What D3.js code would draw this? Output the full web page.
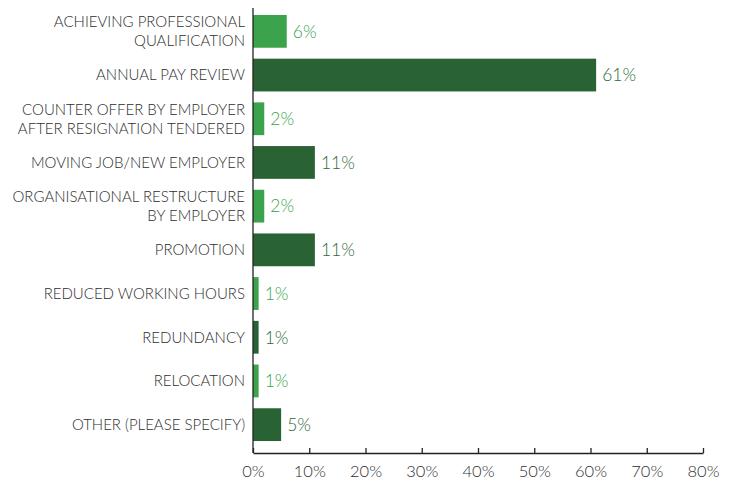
<!DOCTYPE html>
<html>
<head>
<meta charset="utf-8">
<script src="https://cdn.jsdelivr.net/npm/d3@7"></script>
<style>
  body { margin: 0; background: #fff; }
  svg { display: block; }
</style>
</head>
<body>
<svg id="chart" width="733" height="480"></svg>
<script>
// Reasons for the most recent pay rise
const categories = [
  ["ACHIEVING PROFESSIONAL", "QUALIFICATION"],
  ["ANNUAL PAY REVIEW"],
  ["COUNTER OFFER BY EMPLOYER", "AFTER RESIGNATION TENDERED"],
  ["MOVING JOB/NEW EMPLOYER"],
  ["ORGANISATIONAL RESTRUCTURE", "BY EMPLOYER"],
  ["PROMOTION"],
  ["REDUCED WORKING HOURS"],
  ["REDUNDANCY"],
  ["RELOCATION"],
  ["OTHER (PLEASE SPECIFY)"]
];
const values = [6, 61, 2, 11, 2, 11, 1, 1, 1, 5];
const tickValues = [0, 10, 20, 30, 40, 50, 60, 70, 80];

const lightGreen = "#3aa34b";
const darkGreen = "#2a6333";
const lightLabel = "#3aa34b";
const darkLabel = "#2f6a39";
const textColor = "#2e2e2e";
const fontFamily = "'Century Gothic', Lato, 'Open Sans', sans-serif";

const svg = d3.select("#chart");
const x0 = 253, x1 = 703, yTop = 8, yBottom = 453;

const x = d3.scaleLinear().domain([0, 80]).range([x0, x1]);
const y = d3.scaleBand()
  .domain(d3.range(categories.length))
  .range([9.5, 446.5])
  .paddingInner(0.25)
  .paddingOuter(0.125);

const data = values.map((v, i) => ({ i, v, label: categories[i] }));

// bars
svg.append("g").selectAll("rect").data(data).join("rect")
  .attr("x", x(0))
  .attr("y", d => y(d.i))
  .attr("width", d => x(d.v) - x(0))
  .attr("height", y.bandwidth())
  .attr("fill", d => d.i % 2 === 0 ? lightGreen : darkGreen);

// value labels
svg.append("g").selectAll("text").data(data).join("text")
  .attr("x", d => x(d.v) + 6)
  .attr("y", d => y(d.i) + y.bandwidth() / 2)
  .attr("dy", "0.36em")
  .attr("font-family", fontFamily)
  .attr("font-weight", 300)
  .attr("font-size", 17.5)
  .attr("fill", d => d.i % 2 === 0 ? lightLabel : darkLabel)
  .text(d => d.v + "%");

// category labels
const cat = svg.append("g").selectAll("text").data(data).join("text")
  .attr("x", x0 - 8)
  .attr("y", d => y(d.i) + y.bandwidth() / 2)
  .attr("text-anchor", "end")
  .attr("font-family", fontFamily)
  .attr("font-weight", 300)
  .attr("font-size", 15)
  .attr("fill", textColor);
cat.each(function(d) {
  const n = d.label.length;
  const lh = 19;
  d3.select(this).selectAll("tspan").data(d.label).join("tspan")
    .attr("x", x0 - 8)
    .attr("y", (t, k) => y(d.i) + y.bandwidth() / 2 + (k - (n - 1) / 2) * lh)
    .attr("dy", "0.36em")
    .text(t => t);
});

// y axis line
svg.append("line")
  .attr("x1", x0).attr("x2", x0)
  .attr("y1", yTop).attr("y2", yBottom)
  .attr("stroke", "#222").attr("stroke-width", 1.3);

// x axis with inward ticks
const xAxis = d3.axisBottom(x)
  .tickValues(tickValues)
  .tickSize(-5)
  .tickSizeOuter(0)
  .tickPadding(12)
  .tickFormat(d => d + "%");
const gx = svg.append("g")
  .attr("transform", `translate(0,${yBottom})`)
  .call(xAxis);
gx.select(".domain").attr("stroke", "#222").attr("stroke-width", 1.3);
gx.selectAll(".tick line").attr("stroke", "#222").attr("stroke-width", 1.3);
gx.selectAll(".tick text")
  .attr("font-family", fontFamily)
  .attr("font-weight", 300)
  .attr("font-size", 16.5)
  .attr("fill", textColor);
</script>
</body>
</html>
